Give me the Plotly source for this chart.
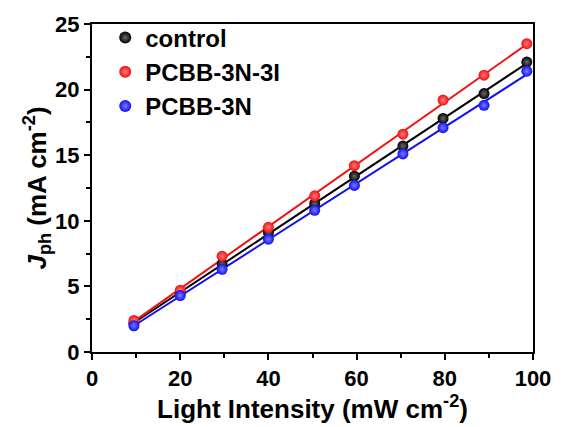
import numpy as np
import plotly.graph_objects as go

intensity = [9.5, 20, 29.5, 40, 50.5, 59.5, 70.5, 79.6, 88.9, 98.6]
control = [2.2, 4.5, 6.7, 9.1, 11.3, 13.4, 15.7, 17.8, 19.7, 22.1]
pcbb_3n_3i = [2.4, 4.7, 7.3, 9.5, 11.9, 14.2, 16.6, 19.2, 21.1, 23.5]
pcbb_3n = [2.0, 4.3, 6.3, 8.6, 10.8, 12.7, 15.1, 17.1, 18.8, 21.4]

series = [("control", control, "#000000", "#6a6a6a"),
          ("PCBB-3N-3I", pcbb_3n_3i, "#f01010", "#ff7a7a"),
          ("PCBB-3N", pcbb_3n, "#1010f0", "#7a7aff")]

fam = "Liberation Sans, Arial, sans-serif"

fig = go.Figure()
x = np.array(intensity)
for name, vals, col, hi in series:
    k, b = np.polyfit(x, np.array(vals), 1)
    xf = np.array([x.min(), x.max()])
    fig.add_trace(go.Scatter(x=xf, y=k * xf + b, mode="lines",
                             line=dict(color=col, width=2), showlegend=False,
                             hoverinfo="skip"))
for name, vals, col, hi in series:
    fig.add_trace(go.Scatter(x=intensity, y=vals, mode="markers", name="<b>%s</b>" % name,
                             marker=dict(size=11, color=col,
                                         gradient=dict(type="radial", color=hi),
                                         line=dict(width=0))))

fig.update_layout(
    width=563, height=427,
    margin=dict(l=92, r=24, t=18, b=75),
    paper_bgcolor="white", plot_bgcolor="white",
    font=dict(family=fam, size=22, color="black"),
    legend=dict(x=0.03, y=1.026, xanchor="left", yanchor="top",
                bgcolor="rgba(0,0,0,0)", font=dict(family=fam, size=24, color="black"),
                itemsizing="constant", tracegroupgap=0),
    xaxis=dict(range=[0, 100], tickvals=[0, 20, 40, 60, 80, 100],
               ticktext=["<b>%d</b>" % v for v in [0, 20, 40, 60, 80, 100]],
               ticks="outside", ticklen=6, tickwidth=2, tickcolor="black",
               minor=dict(tickvals=[10, 30, 50, 70, 90], ticks="outside", ticklen=4, tickwidth=2, tickcolor="black"),
               showline=True, linewidth=2, linecolor="black", mirror=True,
               showgrid=False, zeroline=False,
               title=dict(text="<b>Light Intensity (mW cm<sup>-2</sup>)</b>", standoff=0)),
    yaxis=dict(range=[0, 25], tickvals=[0, 5, 10, 15, 20, 25],
               ticktext=["<b>%d</b>" % v for v in [0, 5, 10, 15, 20, 25]],
               ticks="outside", ticklen=6, tickwidth=2, tickcolor="black",
               minor=dict(tickvals=[2.5, 7.5, 12.5, 17.5, 22.5], ticks="outside", ticklen=4, tickwidth=2, tickcolor="black"),
               showline=True, linewidth=2, linecolor="black", mirror=True,
               showgrid=False, zeroline=False,
               title=dict(text="<b><i>J</i><sub>ph</sub> (mA cm<sup>-2</sup>)</b>", standoff=0)),
)
fig.write_html("out.html")
